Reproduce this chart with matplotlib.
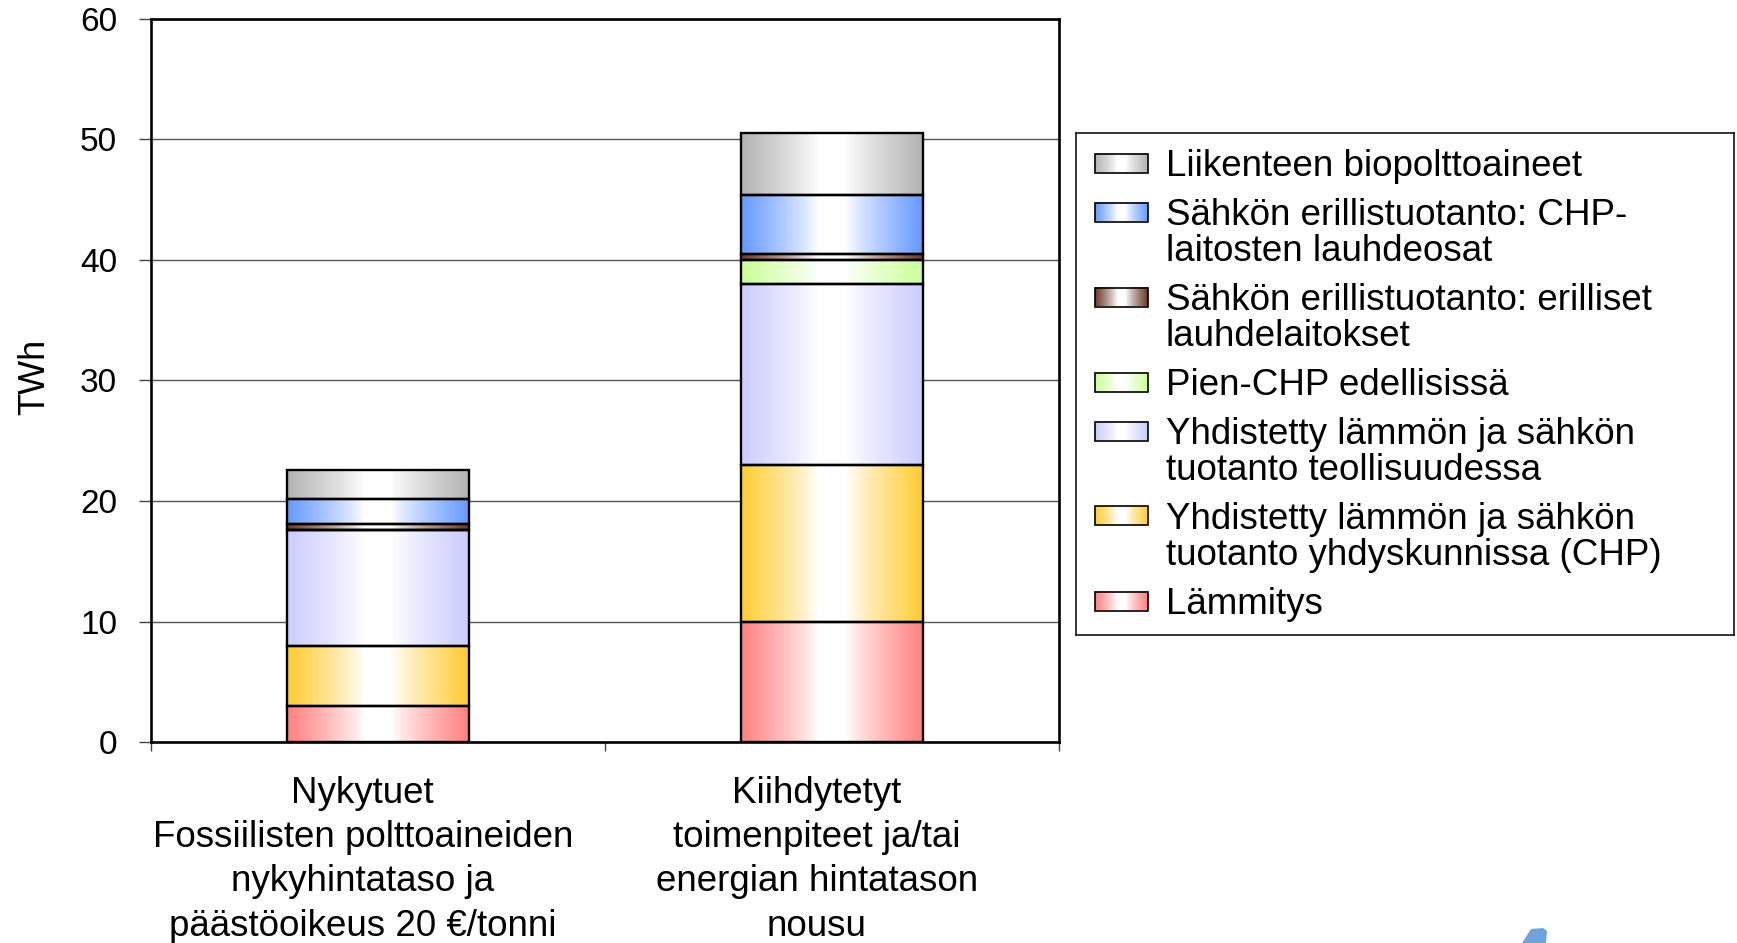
import numpy as np
import matplotlib.pyplot as plt
import matplotlib.colors as mcolors
from matplotlib.patches import Rectangle, Polygon
from matplotlib.transforms import ScaledTranslation

plt.rcParams['font.family'] = ['Liberation Sans', 'DejaVu Sans']

# --- data (TWh), stacked bottom -> top ---
categories = ['Nykytuet\nFossiilisten polttoaineiden\nnykyhintataso ja\npäästöoikeus 20 €/tonni',
              'Kiihdytetyt\ntoimenpiteet ja/tai\nenergian hintatason\nnousu']
series = ['Lämmitys',
          'Yhdistetty lämmön ja sähkön\ntuotanto yhdyskunnissa (CHP)',
          'Yhdistetty lämmön ja sähkön\ntuotanto teollisuudessa',
          'Pien-CHP edellisissä',
          'Sähkön erillistuotanto: erilliset\nlauhdelaitokset',
          'Sähkön erillistuotanto: CHP-\nlaitosten lauhdeosat',
          'Liikenteen biopolttoaineet']
lammitys = [3.0, 10.0]
chp_yhdysk = [5.0, 13.0]
chp_teoll = [9.6, 15.0]
pien_chp = [0.0, 2.0]
lauhde_erill = [0.5, 0.5]
lauhde_chp = [2.1, 4.9]
bio = [2.4, 5.1]
stack = [lammitys, chp_yhdysk, chp_teoll, pien_chp, lauhde_erill, lauhde_chp, bio]
colors = ['#ff8080', '#ffcc33', '#ccccff', '#ccff99', '#6b3a2a', '#6699ff', '#b3b3b3']
yticks = [0, 10, 20, 30, 40, 50, 60]


def gradient(color, n=256):
    # colour at the edges, white in the middle
    t = np.abs(np.linspace(-1, 1, n))
    w = np.clip((t - 0.15) / 0.85, 0, 1) ** 0.85
    c = np.array(mcolors.to_rgb(color))
    img = 1 - w[:, None] * (1 - c)
    return img[None, :, :]


fig = plt.figure(figsize=(17.37, 9.43), dpi=100)
ax = fig.add_axes([0.0867, 0.2131, 0.5230, 0.7669])

x = np.arange(len(categories))
width = 0.4
bottom = np.zeros(len(categories))
for vals, col in zip(stack, colors):
    vals = np.array(vals)
    for xi, b, v in zip(x, bottom, vals):
        if v > 0:
            ax.imshow(gradient(col), extent=[xi - width / 2, xi + width / 2, b, b + v],
                      aspect='auto', interpolation='bilinear', zorder=2)
    ax.bar(x, vals, width, bottom=bottom, facecolor='none', edgecolor='black',
           linewidth=1.7, zorder=3)
    bottom += vals

ax.set_xlim(-0.5, 1.5)
ax.set_ylim(0, 60)
ax.set_yticks(yticks)
ax.yaxis.grid(True, color='#555555', linewidth=1.0, zorder=0)
ax.set_axisbelow(True)
for s in ax.spines.values():
    s.set_linewidth(1.9)
ax.tick_params(axis='y', length=9, width=1, color='#444444', pad=15, labelsize=24)

ax.set_xticks(x)
ax.set_xticklabels(categories, fontsize=26.5, linespacing=1.34)
ax.tick_params(axis='x', which='major', length=0, pad=24.5)
ax.set_xticks([-0.5, 0.5, 1.5], minor=True)
ax.tick_params(axis='x', which='minor', length=6.5, width=1, color='#444444', direction='out')
# the category labels sit a little left of the bar centres
shift = ScaledTranslation(-0.15, 0, fig.dpi_scale_trans)
for lab in ax.get_xticklabels():
    lab.set_transform(lab.get_transform() + shift)

ax.set_ylabel('TWh', fontsize=26)
ax.yaxis.set_label_coords(-0.1085, 0.505)

# --- legend drawn in its own box ---
lw_px, lh_px = 658, 502
lax = fig.add_axes([1076 / 1737, 1 - 635 / 943, lw_px / 1737, lh_px / 943])
lax.set_xticks([])
lax.set_yticks([])
for s in lax.spines.values():
    s.set_linewidth(1.1)

y = 30
for name, col in zip(series[::-1], colors[::-1]):
    lax.imshow(gradient(col), extent=[19, 72, y + 9.5, y - 9.5], aspect='auto',
               interpolation='bilinear', zorder=2)
    lax.add_patch(Rectangle((19, y - 9.5), 53, 19, fill=False, edgecolor='black',
                            linewidth=1.2, zorder=3))
    lines = name.split('\n')
    for k, line in enumerate(lines):
        lax.text(90, y + k * 36 + 13, line, fontsize=26.5, va='baseline', ha='left')
    y += (len(lines) - 1) * 36 + 49
lax.set_xlim(0, lw_px)
lax.set_ylim(lh_px, 0)

# cut-off logo piece at the bottom edge
pts = [(1522, 943), (1531, 929), (1543, 928), (1547, 931), (1546, 943)]
fig.patches.append(Polygon([(px / 1737, 1 - py / 943) for px, py in pts], closed=True,
                           transform=fig.transFigure, facecolor='#6fa3d9', edgecolor='none'))

fig.savefig('out.png', dpi=100)
